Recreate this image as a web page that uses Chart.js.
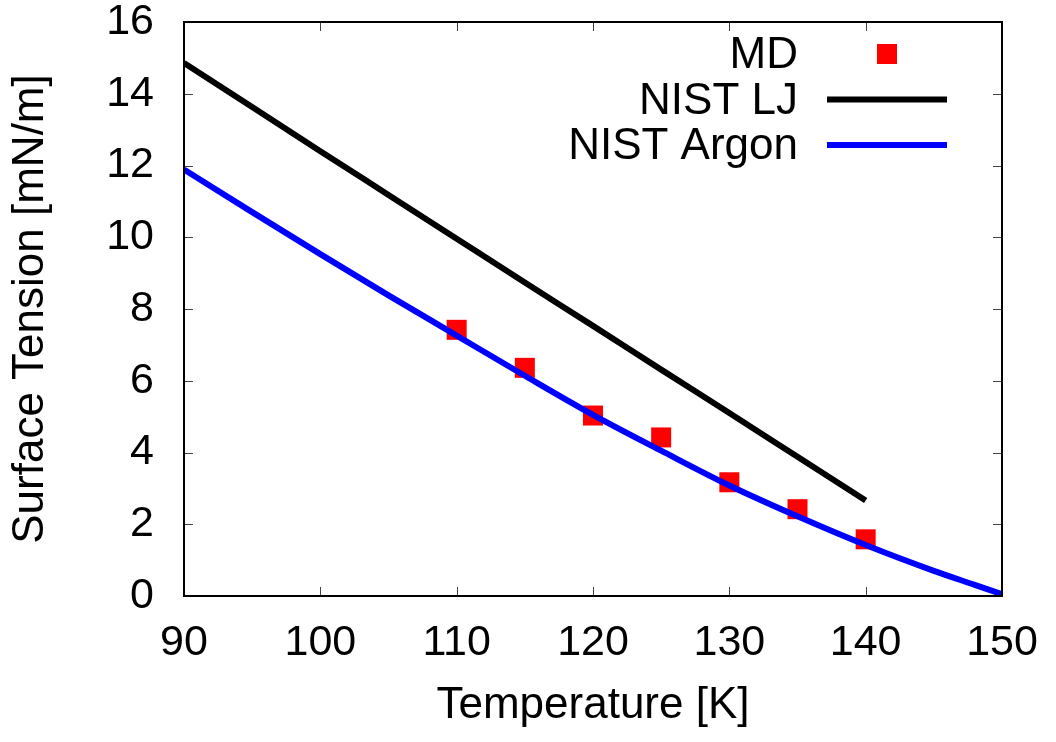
<!DOCTYPE html>
<html>
<head>
<meta charset="utf-8">
<script src="https://cdn.jsdelivr.net/npm/chart.js@4/dist/chart.umd.min.js"></script>
<style>
  html, body { margin: 0; padding: 0; background: #fff; }
  canvas { display: block; }
</style>
</head>
<body>
<canvas id="myChart" width="1056" height="742"></canvas>
<script>
// MD simulation points
const mdTemps = [110, 115, 120, 125, 130, 135, 140];
const mdTension = [7.42, 6.36, 5.03, 4.42, 3.17, 2.42, 1.58];

// NIST LJ curve
const ljTemps = [90, 95, 100, 105, 110, 115, 120, 125, 130, 135, 140];
const ljTension = [14.86, 13.63, 12.40, 11.18, 9.96, 8.74, 7.53, 6.31, 5.10, 3.88, 2.66];

// NIST Argon curve
const arTemps = [90, 95, 100, 105, 110, 115, 120, 125, 130, 135, 140, 145, 148, 150];
const arTension = [11.89, 10.70, 9.53, 8.38, 7.26, 6.14, 5.05, 4.05, 3.08, 2.22, 1.42, 0.70, 0.31, 0.05];

const xTicks = [90, 100, 110, 120, 130, 140, 150];
const yTicks = [0, 2, 4, 6, 8, 10, 12, 14, 16];

const FONT = '"Liberation Sans", Arial, Helvetica, sans-serif';

function toPoints(xs, ys) {
    return xs.map((x, i) => ({x: x, y: ys[i]}));
}

// gnuplot style frame with inward ticks on all four sides
const framePlugin = {
    id: 'frame',
    afterDatasetsDraw(chart) {
        const ctx = chart.ctx;
        const a = chart.chartArea;
        const xs = chart.scales.x;
        const ys = chart.scales.y;
        ctx.save();
        ctx.strokeStyle = '#444';
        ctx.lineWidth = 1;
        ctx.beginPath();
        xTicks.forEach(v => {
            const px = Math.round(xs.getPixelForValue(v)) + 0.5;
            ctx.moveTo(px, a.bottom); ctx.lineTo(px, a.bottom - 9);
            ctx.moveTo(px, a.top); ctx.lineTo(px, a.top + 9);
        });
        yTicks.forEach(v => {
            const py = Math.round(ys.getPixelForValue(v)) + 0.5;
            ctx.moveTo(a.left, py); ctx.lineTo(a.left + 9, py);
            ctx.moveTo(a.right, py); ctx.lineTo(a.right - 9, py);
        });
        ctx.stroke();
        ctx.strokeStyle = '#000';
        ctx.lineWidth = 2;
        ctx.strokeRect(a.left, a.top, a.right - a.left, a.bottom - a.top);
        ctx.restore();
    }
};

// key in the top right corner: text right aligned, sample on the right
const keyPlugin = {
    id: 'key',
    afterDraw(chart) {
        const ctx = chart.ctx;
        const a = chart.chartArea;
        const textRight = a.right - 204;
        const sx0 = a.right - 175, sx1 = a.right - 55;
        ctx.save();
        ctx.font = '44px ' + FONT;
        ctx.textAlign = 'right';
        ctx.textBaseline = 'middle';
        chart.data.datasets.forEach((ds, i) => {
            const y = a.top + 32 + i * 45.5;
            ctx.fillStyle = '#000';
            ctx.fillText(ds.label, textRight, y + 2);
            if (ds.showLine) {
                ctx.strokeStyle = ds.borderColor;
                ctx.lineWidth = ds.borderWidth;
                ctx.beginPath();
                ctx.moveTo(sx0, y); ctx.lineTo(sx1, y);
                ctx.stroke();
            } else {
                ctx.fillStyle = ds.backgroundColor;
                ctx.fillRect((sx0 + sx1) / 2 - 10, y - 10, 20, 20);
            }
        });
        ctx.restore();
    }
};

const ctx = document.getElementById('myChart').getContext('2d');

const myChart = new Chart(ctx, {
    type: 'scatter',
    data: {
        datasets: [{
            label: 'MD',
            data: toPoints(mdTemps, mdTension),
            pointStyle: 'rect',
            pointRadius: 14.14,
            backgroundColor: '#ff0000',
            borderWidth: 0,
            showLine: false,
            order: 1
        }, {
            label: 'NIST LJ',
            data: toPoints(ljTemps, ljTension),
            showLine: true,
            borderColor: '#000000',
            borderWidth: 6,
            pointRadius: 0,
            cubicInterpolationMode: 'monotone',
            order: 0
        }, {
            label: 'NIST Argon',
            data: toPoints(arTemps, arTension),
            showLine: true,
            borderColor: '#0000ff',
            borderWidth: 6,
            pointRadius: 0,
            cubicInterpolationMode: 'monotone',
            order: 0
        }]
    },
    options: {
        responsive: false,
        animation: false,
        layout: { padding: { top: 22, right: 54, left: 0, bottom: 0 } },
        plugins: {
            legend: { display: false },
            tooltip: { enabled: false }
        },
        scales: {
            x: {
                type: 'linear',
                min: 90, max: 150,
                grid: { display: false, drawTicks: false },
                border: { display: false },
                afterFit(scale) {
                    scale.height = 146;
                    scale.paddingLeft = 0;
                    scale.paddingRight = 0;
                },
                ticks: {
                    stepSize: 10,
                    padding: 21,
                    color: '#000',
                    font: { family: FONT, size: 43 }
                },
                title: {
                    display: true,
                    text: 'Temperature [K]',
                    color: '#000',
                    padding: { top: 0, bottom: 10 },
                    font: { family: FONT, size: 44 }
                }
            },
            y: {
                min: 0, max: 16,
                grid: { display: false, drawTicks: false },
                border: { display: false },
                afterFit(scale) {
                    scale.width = 184;
                    scale.paddingTop = 0;
                    scale.paddingBottom = 0;
                },
                ticks: {
                    stepSize: 2,
                    padding: 30,
                    color: '#000',
                    font: { family: FONT, size: 43 }
                },
                title: {
                    display: true,
                    text: 'Surface Tension [mN/m]',
                    color: '#000',
                    padding: { top: 4, bottom: 0 },
                    font: { family: FONT, size: 44 }
                }
            }
        }
    },
    plugins: [framePlugin, keyPlugin]
});
</script>
</body>
</html>
